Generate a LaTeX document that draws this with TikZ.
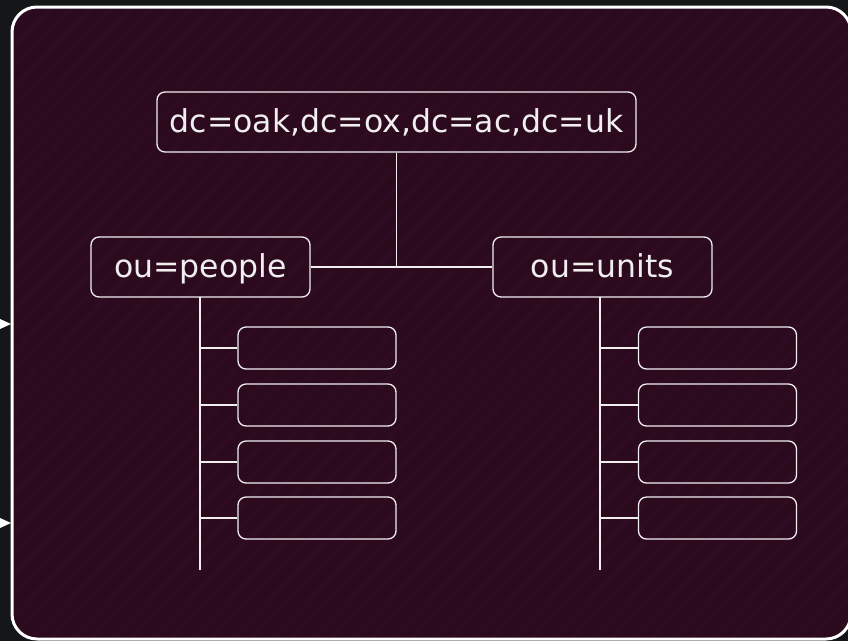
\documentclass[tikz,border=0pt]{standalone}
\usepackage{fontspec}
\setmainfont{DejaVu Sans}
\definecolor{pagebg}{RGB}{21,22,23}
\definecolor{panel}{RGB}{44,10,30}
\definecolor{stripe}{RGB}{54,18,40}
\definecolor{ink}{RGB}{240,238,239}
\tikzset{
  entry/.style={draw=ink, line width=1.3pt, rounded corners=8pt, inner sep=0pt,
    text=ink, font=\fontsize{31.5}{36}\selectfont, text height=28.5pt, text depth=7pt},
  leaf/.style={entry, minimum width=158pt, minimum height=42pt},
  link/.style={draw=ink, line width=1.5pt},
}
\begin{document}
\begin{tikzpicture}[x=1pt, y=-1pt]
  % page and panel
  \fill[pagebg] (0,0) rectangle (848,641);
  \useasboundingbox (0,0) rectangle (848,641);
  \fill[panel, rounded corners=25pt] (12,7) rectangle (851,639);
  \begin{scope}
    \clip[rounded corners=25pt] (12,7) rectangle (851,639);
    \foreach \k in {-700,-680,...,900}
      \draw[stripe, line width=5pt, opacity=0.22] (\k,650) -- (\k+640,0);
  \end{scope}
  \draw[white, line width=3pt, rounded corners=25pt] (12,7) rectangle (851,639);
  % pointers on the left edge
  \fill[white] (0,319) -- (11,324) -- (0,329) -- cycle;
  \fill[white] (0,518) -- (11,523) -- (0,528) -- cycle;

  % tree nodes
  \node[entry, minimum width=479pt, minimum height=60pt] (root) at (396.5,122) {dc=oak,dc=ox,dc=ac,dc=uk};
  \node[entry, minimum width=219pt, minimum height=60pt] (people) at (200.5,267) {ou=people};
  \node[entry, minimum width=219pt, minimum height=60pt] (units) at (602.5,267) {ou=units};
  \coordinate (join) at (396.5,267);
  \draw[link] (root.south) -- (join);
  \draw[link] (people.east) -- (units.west);

  \coordinate (ptop) at (200,297);
  \coordinate (pend) at (200,570);
  \coordinate (utop) at (600,297);
  \coordinate (uend) at (600,570);
  \draw[link] (ptop) -- (pend);
  \draw[link] (utop) -- (uend);

  \foreach \i/\y in {1/348,2/405,3/462,4/518} {
    \node[leaf] (p\i) at (317,\y) {};
    \node[leaf] (u\i) at (717.5,\y) {};
    \coordinate (pb\i) at (200,\y);
    \coordinate (ub\i) at (600,\y);
    \draw[link] (pb\i) -- (p\i.west);
    \draw[link] (ub\i) -- (u\i.west);
  }
\end{tikzpicture}
\end{document}
